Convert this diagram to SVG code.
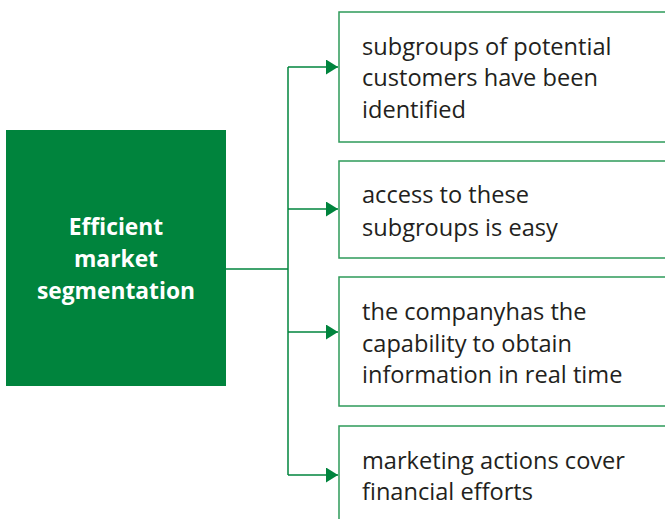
<svg xmlns="http://www.w3.org/2000/svg" width="665" height="519" viewBox="0 0 665 519">
<defs>
<style>
.line{fill:none;stroke:#00843d;stroke-width:1.5}
.box{fill:#fff;stroke:#2e9a5a;stroke-width:1.5}
.t{font-family:"Open Sans","Liberation Sans",sans-serif;font-size:23.6px;fill:#231f20}
.w{font-family:"Open Sans","Liberation Sans",sans-serif;font-size:22.8px;font-weight:bold;fill:#fff;text-anchor:middle}
</style>
<marker id="ah" markerWidth="12" markerHeight="15" refX="12" refY="7.5" orient="auto" markerUnits="userSpaceOnUse">
<path d="M0,0 L12,7.5 L0,15 Z" fill="#00843d"/>
</marker>
</defs>
<rect width="665" height="519" fill="#fff"/>
<g id="connectors">
<path class="line" d="M226,269 H288"/>
<path class="line" d="M288,67 V475"/>
<path class="line" d="M288,67 H338" marker-end="url(#ah)"/>
<path class="line" d="M288,209 H338" marker-end="url(#ah)"/>
<path class="line" d="M288,332 H338" marker-end="url(#ah)"/>
<path class="line" d="M288,475 H338" marker-end="url(#ah)"/>
</g>
<g id="main">
<rect x="6" y="130" width="220" height="256" fill="#00843d"/>
<text class="w" x="116" y="235">Efficient</text>
<text class="w" x="116" y="267">market</text>
<text class="w" x="116" y="299">segmentation</text>
</g>
<g id="n1">
<rect class="box" x="339" y="12" width="340" height="130"/>
<text class="t" x="362" y="55">subgroups of potential</text>
<text class="t" x="362" y="86">customers have been</text>
<text class="t" x="362" y="118">identified</text>
</g>
<g id="n2">
<rect class="box" x="339" y="161" width="340" height="97"/>
<text class="t" x="362" y="203">access to these</text>
<text class="t" x="362" y="236">subgroups is easy</text>
</g>
<g id="n3">
<rect class="box" x="339" y="277" width="340" height="129"/>
<text class="t" x="362" y="320">the companyhas the</text>
<text class="t" x="362" y="352">capability to obtain</text>
<text class="t" x="362" y="383">information in real time</text>
</g>
<g id="n4">
<rect class="box" x="339" y="426" width="340" height="120"/>
<text class="t" x="362" y="469">marketing actions cover</text>
<text class="t" x="362" y="500">financial efforts</text>
</g>
</svg>
